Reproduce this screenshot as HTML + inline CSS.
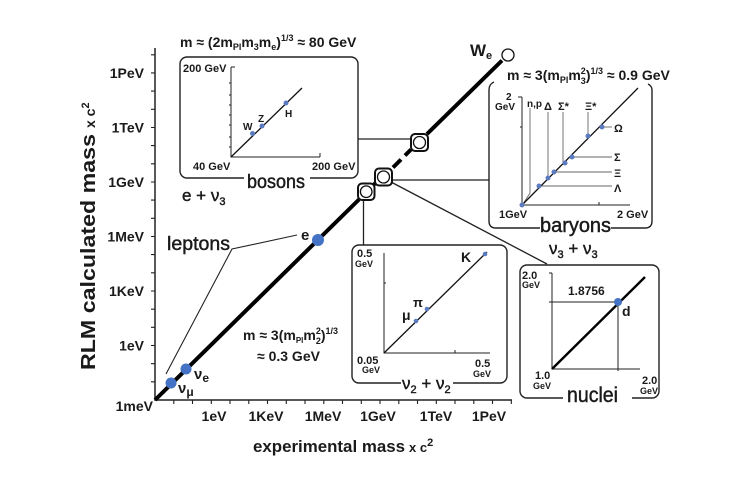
<!DOCTYPE html>
<html><head><meta charset="utf-8"><style>
html,body{margin:0;padding:0;background:#fff;}
svg{display:block;}
text{font-family:"Liberation Sans",sans-serif;fill:#1a1a1a;}
.b{font-weight:bold;}
.t{stroke:#1a1a1a;stroke-width:0.45;}
</style></head><body>
<svg width="741" height="486" viewBox="0 0 741 486" xmlns="http://www.w3.org/2000/svg">
<rect width="741" height="486" fill="#fff"/>

<!-- main axes -->
<g stroke="#222" stroke-width="1.5" fill="none">
<path d="M155 48 V400 H512"/>
</g>
<g stroke="#222" stroke-width="1.1" fill="none">
<path d="M151 381.8H155M151 363.7H155M151 345.5H155M151 327.3H155M151 309.2H155M151 291H155M151 272.8H155M151 254.6H155M151 236.5H155M151 218.3H155M151 200.1H155M151 182H155M151 163.8H155M151 145.6H155M151 127.5H155M151 109.3H155M151 91.1H155M151 72.9H155M151 54.8H155"/>
<path d="M173.8 400V404M192.5 400V404M211.3 400V404M230 400V404M248.8 400V404M267.5 400V404M286.3 400V404M305 400V404M323.8 400V404M342.5 400V404M361.3 400V404M380 400V404M398.8 400V404M417.5 400V404M436.3 400V404M455 400V404M473.8 400V404M492.5 400V404M511.3 400V404"/>
</g>

<!-- y tick labels -->
<g class="b" font-size="14" text-anchor="end">
<text x="144" y="78">1PeV</text>
<text x="144" y="132.5">1TeV</text>
<text x="144" y="187">1GeV</text>
<text x="144" y="241.5">1MeV</text>
<text x="144" y="296">1KeV</text>
<text x="144" y="350.5">1eV</text>
<text x="153" y="411">1meV</text>
</g>
<!-- x tick labels -->
<g class="b" font-size="14" text-anchor="middle">
<text x="214" y="421">1eV</text>
<text x="266" y="421">1KeV</text>
<text x="323" y="421">1MeV</text>
<text x="378" y="421">1GeV</text>
<text x="436" y="421">1TeV</text>
<text x="489" y="421">1PeV</text>
</g>

<!-- axis titles -->
<g transform="translate(95,234) rotate(-90)">
<text class="b" x="-136" y="0" font-size="20" textLength="236" lengthAdjust="spacingAndGlyphs">RLM calculated mass</text>
<text class="b" x="106" y="0" font-size="14">x c<tspan font-size="11" dy="-6">2</tspan></text>
</g>
<text class="b" x="253" y="452" font-size="17" textLength="152" lengthAdjust="spacingAndGlyphs">experimental mass</text>
<text class="b" x="409" y="452" font-size="13">x c<tspan font-size="11" dy="-6">2</tspan></text>

<!-- main diagonal -->
<g stroke="#000" stroke-width="4" stroke-linecap="butt">
<line x1="155" y1="400" x2="359" y2="199.5"/>
<line x1="372" y1="186.5" x2="376" y2="182.5"/>
<line x1="393" y1="167.5" x2="401" y2="159.5"/>
<line x1="405" y1="155.5" x2="411" y2="149.5"/>
<line x1="427" y1="134" x2="502" y2="60.5"/>
</g>
<circle cx="508" cy="55" r="6" fill="#fff" stroke="#111" stroke-width="1.3"/>
<text class="b" x="470" y="56" font-size="17">W<tspan font-size="11" dy="3">e</tspan></text>

<!-- connectors -->
<g stroke="#222" stroke-width="1.3" fill="none">
<line x1="358" y1="139" x2="411" y2="139"/>
<line x1="392" y1="180" x2="489" y2="180"/>
<line x1="391" y1="182" x2="547" y2="264"/>
<line x1="363.5" y1="200" x2="363.5" y2="245"/>
</g>

<!-- squares -->
<g stroke="#111" fill="#fff">
<rect x="358" y="183.5" width="16.5" height="16.5" rx="4" stroke-width="2"/>
<circle cx="366.2" cy="191.7" r="5.8" stroke-width="1.3"/>
<rect x="375" y="168.5" width="17" height="17" rx="4" stroke-width="2"/>
<circle cx="383.5" cy="177" r="6" stroke-width="1.3"/>
<rect x="411" y="134" width="17" height="17" rx="4" stroke-width="2"/>
<circle cx="419.5" cy="142.5" r="6" stroke-width="1.3"/>
</g>

<!-- blue dots -->
<g fill="#4472C4">
<circle cx="318" cy="240" r="6"/>
<circle cx="186" cy="369" r="5.5"/>
<circle cx="171" cy="383" r="5.5"/>
</g>
<text class="b" x="301" y="240" font-size="15">e</text>
<text class="b" x="194" y="379" font-size="15">ν<tspan font-size="12" dy="3">e</tspan></text>
<text class="b" x="178" y="393" font-size="15">ν<tspan font-size="12" dy="3">μ</tspan></text>

<!-- leptons -->
<g stroke="#222" stroke-width="1.1" fill="none">
<path d="M297 235 L232 249 L166 374"/>
</g>
<text class="t" x="167" y="250" font-size="19" textLength="63" lengthAdjust="spacingAndGlyphs">leptons</text>
<text class="b" x="243" y="340" font-size="14">m ≈ 3(m<tspan font-size="8" dy="3">Pl</tspan><tspan dy="-3">m</tspan><tspan font-size="9" dy="4">2</tspan><tspan font-size="9" dx="-5" dy="-10">2</tspan><tspan dy="6">)</tspan><tspan font-size="9" dy="-6">1/3</tspan></text>
<text class="b" x="257" y="361" font-size="14">≈ 0.3 GeV</text>

<!-- bosons box -->
<text class="b" x="180" y="47" font-size="14">m ≈ (2m<tspan font-size="9" dy="3">Pl</tspan><tspan dy="-3">m</tspan><tspan font-size="9" dy="3">3</tspan><tspan dy="-3">m</tspan><tspan font-size="9" dy="3">e</tspan><tspan dy="-3">)</tspan><tspan font-size="9" dy="-6">1/3</tspan><tspan dy="6"> ≈ 80 GeV</tspan></text>
<rect x="180" y="57" width="178" height="121" rx="7" fill="none" stroke="#222" stroke-width="1.4"/>
<rect x="244" y="172" width="66" height="12" fill="#fff"/>
<text class="t" x="247" y="188" font-size="19" textLength="58" lengthAdjust="spacingAndGlyphs">bosons</text>
<g stroke="#222" stroke-width="1" fill="none">
<path d="M231 67 V157 H320 M231 67 H235 M320 157 V153"/>
<path d="M229 83H231M229 95H231M229 105H231M229 115H231M229 125H231M229 137H231M229 147H231"/>
</g>
<line x1="231" y1="157" x2="302" y2="88" stroke="#111" stroke-width="1.3"/>
<g fill="#5b7bc0"><circle cx="252.5" cy="133.5" r="2.5"/><circle cx="262" cy="126" r="2.5"/><circle cx="286" cy="103" r="2.5"/></g>
<g class="b">
<text x="183" y="72" font-size="11">200 GeV</text>
<text x="193" y="170" font-size="11">40 GeV</text>
<text x="312" y="170" font-size="11">200 GeV</text>
<text x="243" y="130" font-size="10">W</text>
<text x="258" y="122" font-size="10">Z</text>
<text x="285" y="117" font-size="10">H</text>
</g>
<text class="t" x="182" y="201" font-size="17">e + ν<tspan font-size="11" dy="4">3</tspan></text>

<!-- baryons box -->
<text class="b" x="507" y="80" font-size="14">m ≈ 3(m<tspan font-size="9" dy="3">Pl</tspan><tspan dy="-3">m</tspan><tspan font-size="9" dy="4">3</tspan><tspan font-size="9" dx="-5" dy="-10">2</tspan><tspan dy="6">)</tspan><tspan font-size="9" dy="-6">1/3</tspan><tspan dy="6"> ≈ 0.9 GeV</tspan></text>
<g stroke="#222" stroke-width="1.4" fill="none">
<path d="M494 82 Q489 84 489 90 V221 Q489 228 496 228 H540"/>
<path d="M611 228 H645 Q652 228 652 221 V90 Q652 86 648 84"/>
</g>
<text class="t" x="540" y="232" font-size="20" textLength="71" lengthAdjust="spacingAndGlyphs">baryons</text>
<g stroke="#222" stroke-width="1" fill="none">
<path d="M522 97 V205 H630 M518 97 H522 M520 127 H522 M599 205 V202"/>
</g>
<g stroke="#666" stroke-width="0.9" fill="none">
<path d="M530 108 V193 L523 204"/>
<path d="M548 112 V178"/>
<path d="M563 112 V165"/>
<path d="M588 112 V136"/>
<path d="M602 127 H612"/>
<path d="M572 157 H612"/>
<path d="M554 172 H612"/>
<path d="M539 186 H612"/>
</g>
<line x1="522" y1="205" x2="638" y2="88" stroke="#111" stroke-width="1.3"/>
<g fill="#5b7bc0">
<circle cx="522" cy="205" r="2.5"/><circle cx="539" cy="186" r="2.5"/><circle cx="548" cy="178" r="2.5"/><circle cx="554" cy="172" r="2.5"/>
<circle cx="565" cy="163" r="2.5"/><circle cx="572" cy="157" r="2.5"/><circle cx="588" cy="136" r="2.5"/><circle cx="602" cy="127" r="2.5"/>
</g>
<g class="b">
<text x="506" y="100" font-size="10">2</text>
<text x="495" y="110" font-size="10">GeV</text>
<text x="527" y="107" font-size="10">n,p</text>
<text x="544" y="110" font-size="11">Δ</text>
<text x="558" y="110" font-size="11">Σ*</text>
<text x="585" y="110" font-size="11">Ξ*</text>
<text x="614" y="132" font-size="11">Ω</text>
<text x="614" y="161" font-size="11">Σ</text>
<text x="614" y="177" font-size="11">Ξ</text>
<text x="614" y="192" font-size="11">Λ</text>
<text x="499" y="218" font-size="11">1GeV</text>
<text x="617" y="218" font-size="11">2 GeV</text>
</g>
<text class="t" x="549" y="254" font-size="17">ν<tspan font-size="11" dy="4">3</tspan><tspan dy="-4"> + ν</tspan><tspan font-size="11" dy="4">3</tspan></text>

<!-- mesons box -->
<rect x="352" y="245" width="155" height="138" rx="7" fill="none" stroke="#222" stroke-width="1.4"/>
<rect x="401" y="377" width="52" height="12" fill="#fff"/>
<text class="t" x="402" y="389" font-size="17">ν<tspan font-size="11" dy="4">2</tspan><tspan dy="-4"> + ν</tspan><tspan font-size="11" dy="4">2</tspan></text>
<g stroke="#222" stroke-width="1" fill="none">
<path d="M384 253 V353 H490 M384 283 H386 M455 353 V350"/>
</g>
<line x1="384" y1="353" x2="487" y2="252" stroke="#111" stroke-width="1.3"/>
<g fill="#5b7bc0"><circle cx="416" cy="321" r="2.3"/><circle cx="427" cy="309" r="2.3"/><circle cx="485" cy="254" r="2.3"/></g>
<g class="b">
<text x="357" y="257" font-size="11">0.5</text>
<text x="355" y="267" font-size="9">GeV</text>
<text x="461" y="262" font-size="14">K</text>
<text x="413" y="307" font-size="13">π</text>
<text x="402" y="320" font-size="14">μ</text>
<text x="357" y="364" font-size="11">0.05</text>
<text x="362" y="373" font-size="9">GeV</text>
<text x="475" y="367" font-size="11">0.5</text>
<text x="473" y="377" font-size="9">GeV</text>
</g>

<!-- nuclei box -->
<rect x="520" y="265" width="139" height="133" rx="7" fill="none" stroke="#222" stroke-width="1.4"/>
<rect x="563" y="392" width="69" height="12" fill="#fff"/>
<text class="t" x="567" y="402" font-size="21" textLength="51" lengthAdjust="spacingAndGlyphs">nuclei</text>
<g stroke="#222" stroke-width="1" fill="none">
<path d="M552 273 V369 H640 M549 273 H552"/>
<path d="M549 302 H618 V371"/>
</g>
<line x1="552" y1="369" x2="645" y2="277" stroke="#000" stroke-width="2.4"/>
<circle cx="618" cy="302" r="4" fill="#4472C4"/>
<g class="b">
<text x="522" y="279" font-size="11">2.0</text>
<text x="522" y="288" font-size="9">GeV</text>
<text x="568" y="295" font-size="12">1.8756</text>
<text x="622" y="316" font-size="14">d</text>
<text x="535" y="379" font-size="11">1.0</text>
<text x="533" y="389" font-size="9">GeV</text>
<text x="642" y="384" font-size="11">2.0</text>
<text x="640" y="394" font-size="9">GeV</text>
</g>
</svg>
</body></html>
